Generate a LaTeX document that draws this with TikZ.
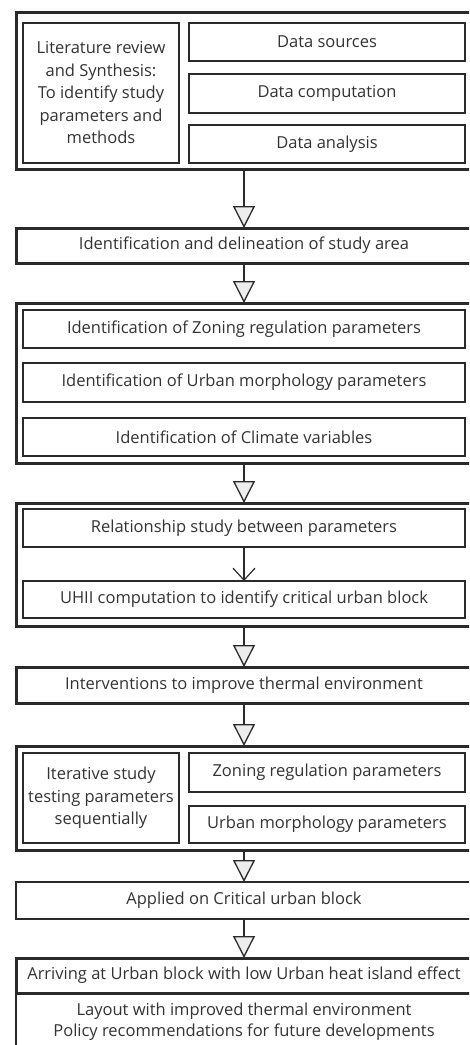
\documentclass[tikz,border=0pt]{standalone}
\usepackage{fontspec}
\setmainfont{Open Sans}
\usetikzlibrary{arrows.meta}
\definecolor{ink}{HTML}{2A2A2A}
\definecolor{txt}{HTML}{333333}
\definecolor{trifill}{HTML}{EDEDED}
\begin{document}
\begin{tikzpicture}[x=1pt,y=-1pt,
  box/.style={draw=ink, line width=1.3pt, fill=white, inner sep=0pt, outer sep=0pt,
    font=\fontsize{16.5}{22.5}\selectfont, text=txt, align=center},
  thickbox/.style={box, line width=3pt},
  flow/.style={draw=ink, line width=1.3pt, -{Triangle[length=22pt,width=22pt,fill=trifill]}},
  thinflow/.style={draw=ink, line width=1.2pt, -{Straight Barb[length=12pt,width=22pt]}}
]
\useasboundingbox (0,0) rectangle (469,1045);
\clip (0,0) rectangle (469,1045);
\fill[white] (0,0) rectangle (469,1045);

% Block 1
\node[thickbox, minimum width=456pt, minimum height=157pt] (o1) at (244,90.5) {};
\node[box, minimum width=156pt, minimum height=140pt] (lit) at (101,93)
  {Literature review\\and Synthesis:\\To identify study\\parameters and\\methods};
\node[box, minimum width=276pt, minimum height=38pt] (ds) at (327,42) {Data sources};
\node[box, minimum width=276pt, minimum height=39pt] (dc) at (327,93.5) {Data computation};
\node[box, minimum width=276pt, minimum height=38pt] (da) at (327,144) {Data analysis};

% Block 2
\node[thickbox, minimum width=456pt, minimum height=35pt] (b2) at (244,245.5)
  {Identification and delineation of study area};

% Block 3
\node[thickbox, minimum width=456pt, minimum height=160pt] (o3) at (244,383) {};
\node[box, minimum width=442pt, minimum height=38pt] (z1) at (244,329)
  {Identification of Zoning regulation parameters};
\node[box, minimum width=442pt, minimum height=39pt] (u1) at (244,382.5)
  {Identification of Urban morphology parameters};
\node[box, minimum width=442pt, minimum height=38pt] (c1) at (244,437)
  {Identification of Climate variables};

% Block 4
\node[thickbox, minimum width=456pt, minimum height=123pt] (o4) at (244,564.5) {};
\node[box, minimum width=442pt, minimum height=38pt] (rel) at (244,528)
  {Relationship study between parameters};
\node[box, minimum width=442pt, minimum height=37pt] (uhii) at (244,599.5)
  {UHII computation to identify critical urban block};

% Block 5
\node[thickbox, minimum width=456pt, minimum height=36pt] (b5) at (244,685)
  {Interventions to improve thermal environment};

% Block 6
\node[thickbox, minimum width=456pt, minimum height=104pt] (o6) at (244,798) {};
\node[box, minimum width=156pt, minimum height=90pt] (it) at (101,798)
  {Iterative study\\testing parameters\\sequentially};
\node[box, minimum width=276pt, minimum height=39pt] (z2) at (327,772.5)
  {Zoning regulation parameters};
\node[box, minimum width=276pt, minimum height=37pt] (u2) at (327,824.5)
  {Urban morphology parameters};

% Block 7
\node[box, minimum width=456pt, minimum height=37pt] (b7) at (244,900.5)
  {Applied on Critical urban block};

% Block 8 / 9
\node[box, minimum width=456pt, minimum height=57pt, font=\fontsize{16.5}{21}\selectfont] (b9) at (244,1021.5)
  {Layout with improved thermal environment\\Policy recommendations for future developments};
\node[thickbox, minimum width=456pt, minimum height=35pt] (b8) at (244,975.5)
  {Arriving at Urban block with low Urban heat island effect};

% Connectors
\draw[flow] (o1.south) -- (b2.north);
\draw[flow] (b2.south) -- (o3.north);
\draw[flow] (o3.south) -- (o4.north);
\draw[thinflow] (rel.south) -- (uhii.north);
\draw[flow] (o4.south) -- (b5.north);
\draw[flow] (b5.south) -- (o6.north);
\draw[flow] (o6.south) -- (b7.north);
\draw[flow] (b7.south) -- (b8.north);
\end{tikzpicture}
\end{document}
